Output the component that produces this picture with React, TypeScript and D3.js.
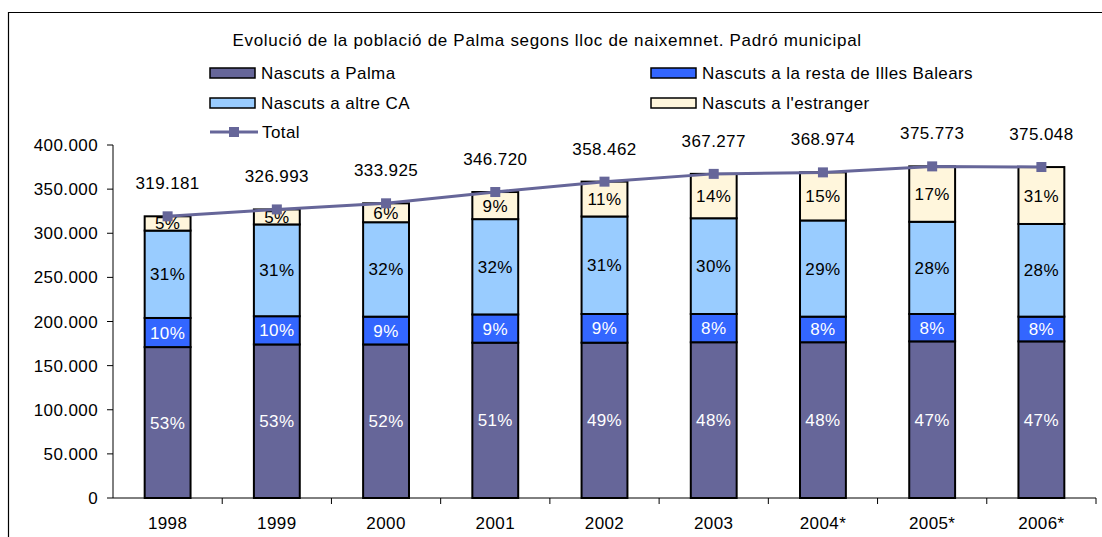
import React from 'react';
import * as d3 from 'd3';

// dades: Padró municipal de Palma
const years = ['1998', '1999', '2000', '2001', '2002', '2003', '2004*', '2005*', '2006*'];
const totals = [319181, 326993, 333925, 346720, 358462, 367277, 368974, 375773, 375048];
const palma = [171000, 174000, 174000, 176000, 176000, 176500, 176500, 177500, 177500];
const balears = [33000, 32000, 31500, 32000, 32500, 32000, 29000, 31000, 28000];
const altreCA = [99000, 104000, 107000, 108000, 110500, 108500, 109000, 104500, 105000];
const estranger = [16200, 17000, 21400, 30700, 39500, 50300, 54500, 62800, 64500];

const pctPalma = ['53%', '53%', '52%', '51%', '49%', '48%', '48%', '47%', '47%'];
const pctBalears = ['10%', '10%', '9%', '9%', '9%', '8%', '8%', '8%', '8%'];
const pctAltreCA = ['31%', '31%', '32%', '32%', '31%', '30%', '29%', '28%', '28%'];
const pctEstranger = ['5%', '5%', '6%', '9%', '11%', '14%', '15%', '17%', '31%'];

const yTicks = [0, 50000, 100000, 150000, 200000, 250000, 300000, 350000, 400000];

const seriesNames = [
  'Nascuts a Palma',
  'Nascuts a la resta de Illes Balears',
  'Nascuts a altre CA',
  "Nascuts a l'estranger",
];

const COLORS = ['#666699', '#3366FF', '#99CCFF', '#FFF6DC'];
const TEXT_COLORS = ['#ffffff', '#ffffff', '#000000', '#000000'];
const LINE = '#666699';
const FONT = '"Liberation Sans", Arial, sans-serif';
const FS = 17;
const LS = 0.4;

const W = 1102;
const H = 537;

const locale = d3.formatLocale({ decimal: ',', thousands: '.', grouping: [3], currency: ['', ''] });
const fmt = locale.format(',d');

export default function App() {
  const x = d3.scaleBand<string>().domain(years).range([113, 1096]);
  const y = d3.scaleLinear().domain([0, 400000]).range([498, 145]);
  const barW = x.bandwidth() * 0.42;

  const table = years.map((yr, i) => ({
    year: yr,
    palma: palma[i],
    balears: balears[i],
    altreCA: altreCA[i],
    estranger: estranger[i],
  }));
  const keys = ['palma', 'balears', 'altreCA', 'estranger'];
  const pcts = [pctPalma, pctBalears, pctAltreCA, pctEstranger];
  const stacked = d3.stack<any>().keys(keys)(table);

  const cx = (i: number) => (x(years[i]) as number) + x.bandwidth() / 2;
  const line = d3.line<number>()
    .x((_, i) => cx(i))
    .y(d => y(d));

  const legend = [
    { col: 0, row: 0, s: 0 },
    { col: 1, row: 0, s: 1 },
    { col: 0, row: 1, s: 2 },
    { col: 1, row: 1, s: 3 },
  ];
  const legX = [210, 651];
  const legY = [73, 103, 132];

  return (
    <svg width={W} height={H} style={{ position: 'absolute', left: 0, top: 0, display: 'block', background: '#fff' }}
      fontFamily={FONT} letterSpacing={LS}>
      <path d={`M8.5,${H} V12.5 H${W}`} fill="none" stroke="#000" strokeWidth={1.2} />

      <text x={547} y={46} textAnchor="middle" fontSize={FS} fill="#000" textLength={629} lengthAdjust="spacing">
        Evolució de la població de Palma segons lloc de naixemnet. Padró municipal
      </text>

      {legend.map(l => (
        <g key={l.s}>
          <rect x={legX[l.col]} y={legY[l.row] - 5} width={45} height={10} fill={COLORS[l.s]} stroke="#000" strokeWidth={1.5} />
          <text x={legX[l.col] + 51} y={legY[l.row] + 6} fontSize={FS} fill="#000">{seriesNames[l.s]}</text>
        </g>
      ))}
      <g>
        <line x1={legX[0]} x2={legX[0] + 48} y1={legY[2]} y2={legY[2]} stroke={LINE} strokeWidth={3} />
        <rect x={legX[0] + 19} y={legY[2] - 5} width={10} height={10} fill={LINE} />
        <text x={legX[0] + 52} y={legY[2] + 6} fontSize={FS} fill="#000">Total</text>
      </g>

      {/* eix Y */}
      <line x1={113} x2={113} y1={y(400000)} y2={y(0)} stroke="#000" strokeWidth={1} />
      {yTicks.map(t => (
        <g key={t}>
          <line x1={107} x2={113} y1={y(t)} y2={y(t)} stroke="#000" strokeWidth={1} />
          <text x={98} y={y(t) + 6} textAnchor="end" fontSize={FS} fill="#000">{fmt(t)}</text>
        </g>
      ))}

      {/* eix X */}
      <line x1={113} x2={1096} y1={y(0)} y2={y(0)} stroke="#000" strokeWidth={1} />
      {years.map((yr, i) => (
        <g key={yr}>
          <line x1={(x(yr) as number) + x.bandwidth()} x2={(x(yr) as number) + x.bandwidth()} y1={y(0)} y2={y(0) + 6} stroke="#000" />
          <text x={cx(i)} y={529} textAnchor="middle" fontSize={FS} fill="#000">{yr}</text>
        </g>
      ))}

      {/* barres apilades */}
      {stacked.map((s, si) => (
        <g key={s.key}>
          {s.map((d, i) => (
            <g key={i}>
              <rect x={cx(i) - barW / 2} y={y(d[1])} width={barW} height={y(d[0]) - y(d[1])}
                fill={COLORS[si]} stroke="#000" strokeWidth={2} />
              <text x={cx(i)} y={(y(d[0]) + y(d[1])) / 2 + 6} textAnchor="middle" fontSize={FS}
                fill={TEXT_COLORS[si]}>{pcts[si][i]}</text>
            </g>
          ))}
        </g>
      ))}

      {/* total */}
      <path d={line(totals) as string} fill="none" stroke={LINE} strokeWidth={3} />
      {totals.map((t, i) => (
        <g key={i}>
          <rect x={cx(i) - 5} y={y(t) - 5} width={10} height={10} fill={LINE} />
          <text x={cx(i)} y={y(t) - 27} textAnchor="middle" fontSize={FS} fill="#000">{fmt(t)}</text>
        </g>
      ))}
    </svg>
  );
}
